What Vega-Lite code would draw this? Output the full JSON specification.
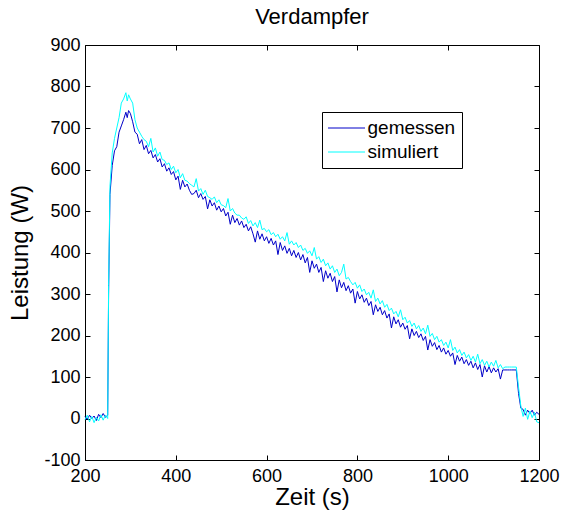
{
 "$schema": "https://vega.github.io/schema/vega-lite/v6.json",
 "width": 454,
 "height": 415,
 "autosize": {"type": "none"},
 "padding": {"left": 85, "top": 45, "right": 23, "bottom": 55},
 "title": {"text": "Verdampfer", "fontSize": 22, "font": "Liberation Sans", "fontWeight": "normal", "offset": 7, "anchor": "middle", "color": "black"},
 "datasets": {
  "d": [
   {"t":200,"gemessen":5,"simuliert":-3},{"t":205,"gemessen":-2,"simuliert":8},{"t":210,"gemessen":8,"simuliert":-8},{"t":215,"gemessen":0,"simuliert":5},
   {"t":220,"gemessen":6,"simuliert":-10},{"t":225,"gemessen":-5,"simuliert":3},{"t":230,"gemessen":10,"simuliert":-6},{"t":235,"gemessen":2,"simuliert":9},
   {"t":240,"gemessen":12,"simuliert":-4},{"t":245,"gemessen":3,"simuliert":8},{"t":250,"gemessen":8,"simuliert":0},{"t":252,"gemessen":300,"simuliert":320},
   {"t":255,"gemessen":540,"simuliert":560},{"t":260,"gemessen":610,"simuliert":640},{"t":265,"gemessen":645,"simuliert":675},{"t":270,"gemessen":655,"simuliert":700},
   {"t":275,"gemessen":690,"simuliert":725},{"t":280,"gemessen":705,"simuliert":760},{"t":285,"gemessen":720,"simuliert":770},{"t":290,"gemessen":738,"simuliert":785},
   {"t":293,"gemessen":725,"simuliert":765},{"t":296,"gemessen":742,"simuliert":780},{"t":300,"gemessen":735,"simuliert":770},{"t":305,"gemessen":715,"simuliert":760},
   {"t":310,"gemessen":690,"simuliert":720},{"t":315,"gemessen":685,"simuliert":700},{"t":320,"gemessen":662,"simuliert":690},{"t":325,"gemessen":672,"simuliert":680},
   {"t":330,"gemessen":648,"simuliert":672},{"t":335,"gemessen":658,"simuliert":668},{"t":340,"gemessen":638,"simuliert":655},{"t":345,"gemessen":646,"simuliert":675},
   {"t":350,"gemessen":628,"simuliert":642},{"t":355,"gemessen":636,"simuliert":652},{"t":360,"gemessen":618,"simuliert":632},{"t":365,"gemessen":626,"simuliert":642},
   {"t":370,"gemessen":606,"simuliert":624},{"t":375,"gemessen":614,"simuliert":622},{"t":380,"gemessen":596,"simuliert":612},{"t":385,"gemessen":604,"simuliert":616},
   {"t":390,"gemessen":588,"simuliert":600},{"t":395,"gemessen":595,"simuliert":608},{"t":400,"gemessen":575,"simuliert":592},{"t":405,"gemessen":584,"simuliert":600},
   {"t":410,"gemessen":552,"simuliert":580},{"t":415,"gemessen":574,"simuliert":590},{"t":420,"gemessen":558,"simuliert":574},{"t":425,"gemessen":565,"simuliert":572},
   {"t":430,"gemessen":550,"simuliert":566},{"t":435,"gemessen":540,"simuliert":562},{"t":440,"gemessen":542,"simuliert":558},{"t":445,"gemessen":550,"simuliert":578},
   {"t":450,"gemessen":532,"simuliert":548},{"t":455,"gemessen":542,"simuliert":554},{"t":460,"gemessen":528,"simuliert":540},{"t":465,"gemessen":535,"simuliert":550},
   {"t":470,"gemessen":505,"simuliert":535},{"t":475,"gemessen":527,"simuliert":532},{"t":480,"gemessen":512,"simuliert":528},{"t":485,"gemessen":520,"simuliert":534},
   {"t":490,"gemessen":502,"simuliert":520},{"t":495,"gemessen":512,"simuliert":527},{"t":500,"gemessen":498,"simuliert":515},{"t":505,"gemessen":506,"simuliert":513},
   {"t":510,"gemessen":488,"simuliert":508},{"t":515,"gemessen":497,"simuliert":530},{"t":520,"gemessen":468,"simuliert":500},{"t":525,"gemessen":490,"simuliert":506},
   {"t":530,"gemessen":472,"simuliert":495},{"t":535,"gemessen":482,"simuliert":490},{"t":540,"gemessen":466,"simuliert":490},{"t":545,"gemessen":476,"simuliert":483},
   {"t":550,"gemessen":460,"simuliert":480},{"t":555,"gemessen":468,"simuliert":486},{"t":560,"gemessen":452,"simuliert":470},{"t":565,"gemessen":462,"simuliert":477},
   {"t":570,"gemessen":445,"simuliert":464},{"t":575,"gemessen":425,"simuliert":472},{"t":580,"gemessen":452,"simuliert":460},{"t":585,"gemessen":432,"simuliert":478},
   {"t":590,"gemessen":445,"simuliert":455},{"t":595,"gemessen":428,"simuliert":458},{"t":600,"gemessen":438,"simuliert":450},{"t":605,"gemessen":422,"simuliert":455},
   {"t":610,"gemessen":434,"simuliert":443},{"t":615,"gemessen":418,"simuliert":448},{"t":620,"gemessen":428,"simuliert":438},{"t":625,"gemessen":395,"simuliert":444},
   {"t":630,"gemessen":424,"simuliert":432},{"t":635,"gemessen":405,"simuliert":438},{"t":640,"gemessen":416,"simuliert":428},{"t":645,"gemessen":398,"simuliert":448},
   {"t":650,"gemessen":410,"simuliert":420},{"t":655,"gemessen":392,"simuliert":428},{"t":660,"gemessen":405,"simuliert":418},{"t":665,"gemessen":388,"simuliert":424},
   {"t":670,"gemessen":400,"simuliert":412},{"t":675,"gemessen":382,"simuliert":418},{"t":680,"gemessen":395,"simuliert":405},{"t":685,"gemessen":375,"simuliert":410},
   {"t":690,"gemessen":388,"simuliert":398},{"t":695,"gemessen":352,"simuliert":404},{"t":700,"gemessen":380,"simuliert":392},{"t":705,"gemessen":362,"simuliert":412},
   {"t":710,"gemessen":372,"simuliert":384},{"t":715,"gemessen":352,"simuliert":390},{"t":720,"gemessen":364,"simuliert":376},{"t":725,"gemessen":330,"simuliert":384},
   {"t":730,"gemessen":356,"simuliert":368},{"t":735,"gemessen":338,"simuliert":375},{"t":740,"gemessen":350,"simuliert":360},{"t":745,"gemessen":330,"simuliert":368},
   {"t":750,"gemessen":342,"simuliert":352},{"t":755,"gemessen":305,"simuliert":360},{"t":760,"gemessen":334,"simuliert":344},{"t":765,"gemessen":315,"simuliert":352},
   {"t":770,"gemessen":328,"simuliert":372},{"t":775,"gemessen":308,"simuliert":336},{"t":780,"gemessen":320,"simuliert":340},{"t":785,"gemessen":302,"simuliert":330},
   {"t":790,"gemessen":312,"simuliert":322},{"t":795,"gemessen":278,"simuliert":328},{"t":800,"gemessen":306,"simuliert":314},{"t":805,"gemessen":288,"simuliert":322},
   {"t":810,"gemessen":298,"simuliert":306},{"t":815,"gemessen":280,"simuliert":312},{"t":820,"gemessen":290,"simuliert":298},{"t":825,"gemessen":272,"simuliert":304},
   {"t":830,"gemessen":282,"simuliert":290},{"t":835,"gemessen":250,"simuliert":310},{"t":840,"gemessen":274,"simuliert":282},{"t":845,"gemessen":258,"simuliert":290},
   {"t":850,"gemessen":268,"simuliert":276},{"t":855,"gemessen":250,"simuliert":284},{"t":860,"gemessen":260,"simuliert":268},{"t":865,"gemessen":242,"simuliert":275},
   {"t":870,"gemessen":252,"simuliert":260},{"t":875,"gemessen":218,"simuliert":266},{"t":880,"gemessen":245,"simuliert":252},{"t":885,"gemessen":228,"simuliert":258},
   {"t":890,"gemessen":238,"simuliert":245},{"t":895,"gemessen":220,"simuliert":262},{"t":900,"gemessen":230,"simuliert":238},{"t":905,"gemessen":215,"simuliert":244},
   {"t":910,"gemessen":224,"simuliert":230},{"t":915,"gemessen":192,"simuliert":236},{"t":920,"gemessen":216,"simuliert":222},{"t":925,"gemessen":200,"simuliert":230},
   {"t":930,"gemessen":210,"simuliert":216},{"t":935,"gemessen":195,"simuliert":224},{"t":940,"gemessen":204,"simuliert":210},{"t":945,"gemessen":188,"simuliert":218},
   {"t":950,"gemessen":198,"simuliert":204},{"t":955,"gemessen":165,"simuliert":225},{"t":960,"gemessen":190,"simuliert":198},{"t":965,"gemessen":174,"simuliert":205},
   {"t":970,"gemessen":183,"simuliert":190},{"t":975,"gemessen":166,"simuliert":198},{"t":980,"gemessen":176,"simuliert":184},{"t":985,"gemessen":160,"simuliert":190},
   {"t":990,"gemessen":170,"simuliert":176},{"t":995,"gemessen":155,"simuliert":184},{"t":1000,"gemessen":164,"simuliert":170},{"t":1005,"gemessen":150,"simuliert":190},
   {"t":1010,"gemessen":158,"simuliert":164},{"t":1015,"gemessen":130,"simuliert":172},{"t":1020,"gemessen":152,"simuliert":158},{"t":1025,"gemessen":138,"simuliert":166},
   {"t":1030,"gemessen":148,"simuliert":152},{"t":1035,"gemessen":132,"simuliert":160},{"t":1040,"gemessen":142,"simuliert":146},{"t":1045,"gemessen":128,"simuliert":154},
   {"t":1050,"gemessen":138,"simuliert":140},{"t":1055,"gemessen":122,"simuliert":150},{"t":1060,"gemessen":134,"simuliert":136},{"t":1065,"gemessen":118,"simuliert":155},
   {"t":1070,"gemessen":130,"simuliert":132},{"t":1075,"gemessen":100,"simuliert":142},{"t":1080,"gemessen":127,"simuliert":128},{"t":1085,"gemessen":112,"simuliert":138},
   {"t":1090,"gemessen":125,"simuliert":124},{"t":1095,"gemessen":110,"simuliert":136},{"t":1100,"gemessen":122,"simuliert":126},{"t":1105,"gemessen":112,"simuliert":140},
   {"t":1110,"gemessen":120,"simuliert":122},{"t":1115,"gemessen":95,"simuliert":130},{"t":1120,"gemessen":117,"simuliert":120},{"t":1125,"gemessen":117,"simuliert":124},
   {"t":1130,"gemessen":117,"simuliert":124},{"t":1135,"gemessen":117,"simuliert":124},{"t":1140,"gemessen":117,"simuliert":124},{"t":1145,"gemessen":117,"simuliert":124},
   {"t":1150,"gemessen":117,"simuliert":124},{"t":1155,"gemessen":60,"simuliert":75},{"t":1160,"gemessen":25,"simuliert":30},{"t":1165,"gemessen":22,"simuliert":5},
   {"t":1170,"gemessen":8,"simuliert":25},{"t":1175,"gemessen":20,"simuliert":-2},{"t":1180,"gemessen":12,"simuliert":18},{"t":1185,"gemessen":20,"simuliert":2},
   {"t":1190,"gemessen":8,"simuliert":15},{"t":1195,"gemessen":15,"simuliert":-8},{"t":1200,"gemessen":10,"simuliert":-10}
  ]
 },
 "data": {"name": "d"},
 "transform": [{"fold": ["gemessen", "simuliert"], "as": ["serie", "wert"]}],
 "layer": [
  {
   "mark": {"type": "line", "strokeWidth": 1},
   "encoding": {
    "x": {"field": "t", "type": "quantitative", "scale": {"domain": [200, 1200], "nice": false, "zero": false},
          "axis": {"orient": "bottom", "values": [200, 400, 600, 800, 1000, 1200], "labelExpr": "'' + datum.value", "title": "Zeit (s)", "titlePadding": 0, "labelPadding": 7}},
    "y": {"field": "wert", "type": "quantitative", "scale": {"domain": [-100, 900], "nice": false, "zero": false},
          "axis": {"orient": "left", "values": [-100, 0, 100, 200, 300, 400, 500, 600, 700, 800, 900], "labelExpr": "'' + datum.value", "title": "Leistung (W)", "titlePadding": 11, "labelPadding": 5}},
    "color": {"field": "serie", "type": "nominal",
              "scale": {"domain": ["gemessen", "simuliert"], "range": ["#0000c8", "#00ffff"]},
              "legend": {"orient": "none", "legendX": 237, "legendY": 67, "title": null, "symbolType": "M-2,0H2", "symbolSize": 342,
                         "symbolStrokeWidth": 1, "symbolOffset": 8.5, "labelOffset": 11, "labelFontSize": 19, "labelFont": "Liberation Sans", "labelColor": "black",
                         "strokeColor": "black", "fillColor": "white", "padding": 6, "rowPadding": 4, "cornerRadius": 0}}
   }
  },
  {
   "mark": {"type": "point", "opacity": 0},
   "encoding": {
    "x": {"field": "t", "type": "quantitative", "axis": {"orient": "top", "values": [200, 400, 600, 800, 1000, 1200], "labels": false, "title": null}},
    "y": {"field": "wert", "type": "quantitative", "axis": {"orient": "right", "values": [-100, 0, 100, 200, 300, 400, 500, 600, 700, 800, 900], "labels": false, "title": null}}
   }
  }
 ],
 "resolve": {"axis": {"x": "independent", "y": "independent"}},
 "config": {
  "view": {"stroke": "black", "strokeWidth": 1},
  "axis": {"labelFont": "Liberation Sans", "labelFontSize": 18, "labelColor": "black", "labelFlush": false, "titleFont": "Liberation Sans", "titleFontSize": 24,
           "titleFontWeight": "normal", "titleColor": "black", "tickColor": "black", "tickSize": 5, "offset": -5, "domain": false, "grid": false}
 }
}
